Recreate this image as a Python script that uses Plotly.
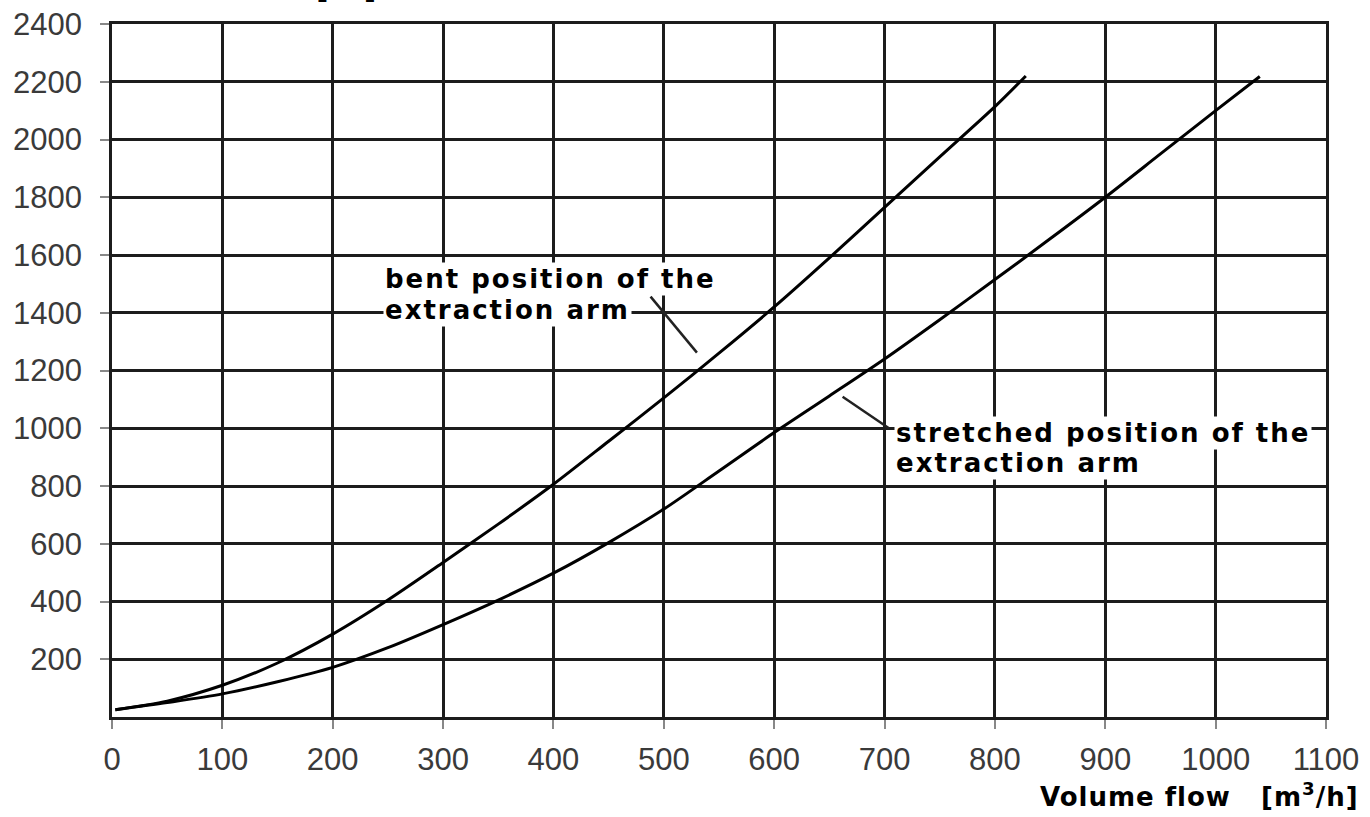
import plotly.graph_objects as go

# ---- data ----
bent_x = [3, 50, 100, 150, 200, 250, 300, 350, 400, 450, 500, 550, 600, 650, 700, 750, 800, 828]
bent_y = [25, 55, 110, 187, 287, 405, 535, 668, 806, 955, 1105, 1260, 1420, 1590, 1765, 1940, 2114, 2220]

stretched_x = [3, 50, 100, 150, 200, 250, 300, 350, 400, 450, 500, 550, 600, 650, 700, 750, 800, 850, 900, 950, 1000, 1040]
stretched_y = [25, 50, 80, 122, 172, 240, 320, 405, 498, 604, 720, 852, 985, 1112, 1240, 1376, 1515, 1656, 1800, 1950, 2100, 2218]

x_ticks = [0, 100, 200, 300, 400, 500, 600, 700, 800, 900, 1000, 1100]
y_ticks = [200, 400, 600, 800, 1000, 1200, 1400, 1600, 1800, 2000, 2200, 2400]

bent_label_lines = ["bent position of the", "extraction arm"]
stretched_label_lines = ["stretched position of the", "extraction arm"]
bent_callout = ([488, 530], [1456, 1262])
stretched_callout = ([662, 704], [1109, 1000])

x_title = "Volume flow   [m<sup>3</sup>/h]"
y_title = "Pressure loss   [Pa]"

GRID = "#1c1c1c"
LABEL_FONT = dict(family="DejaVu Sans", size=26, color="black")
SPACED = '<span style="letter-spacing:2px"><b>{}</b></span>'

W, H = 1370, 817
ML, MR, MT, MB = 112, 44, 24, 100
PW = W - ML - MR
PH = H - MT - MB

fig = go.Figure()

fig.add_trace(go.Scatter(x=bent_x, y=bent_y, mode="lines",
                         line=dict(color="black", width=3, shape="spline", smoothing=0.8),
                         name="bent", showlegend=False))
fig.add_trace(go.Scatter(x=stretched_x, y=stretched_y, mode="lines",
                         line=dict(color="black", width=3, shape="spline", smoothing=0.8),
                         name="stretched", showlegend=False))

# callout lines
for cx, cy in (bent_callout, stretched_callout):
    fig.add_trace(go.Scatter(x=cx, y=cy, mode="lines",
                             line=dict(color="#222", width=2.5),
                             showlegend=False, hoverinfo="skip"))

def add_label(lines, x, y_top, dy):
    for i, t in enumerate(lines):
        fig.add_annotation(x=x, y=y_top - i * dy, xref="x", yref="y",
                           text=SPACED.format(t), showarrow=False,
                           xanchor="left", yanchor="top", align="left",
                           font=LABEL_FONT, bgcolor="white", borderpad=1)

add_label(bent_label_lines, 246, 1577, 110)
add_label(stretched_label_lines, 709, 1042, 102)

# axis titles (the y title sits mostly above the top edge, as in the reference)
fig.add_annotation(x=(1361 - ML) / PW, y=-0.085, xref="paper", yref="paper",
                   text='<span style="letter-spacing:1px"><b>' + x_title + '</b></span>',
                   showarrow=False, xanchor="right", yanchor="top",
                   font=dict(family="DejaVu Sans", size=26, color="black"))
fig.add_annotation(x=(378 - ML) / PW, y=1 + (MT - 6) / PH, xref="paper", yref="paper",
                   text="<b>" + y_title + "</b>", showarrow=False,
                   xanchor="right", yanchor="bottom",
                   font=dict(family="DejaVu Sans", size=26, color="black"))

fig.update_xaxes(range=[0, 1100], tickvals=x_ticks, automargin=False,
                 showgrid=True, gridcolor=GRID, gridwidth=2.5,
                 showline=True, linecolor=GRID, linewidth=2.5, mirror=True,
                 ticks="outside", ticklen=9, tickwidth=1.5, tickcolor="#888",
                 tickfont=dict(family="Liberation Sans", size=31, color="#3a3a3a"),
                 ticklabelstandoff=4, ticklabeloverflow="allow",
                 zeroline=False, fixedrange=True)
fig.update_yaxes(range=[0, 2400], tickvals=y_ticks, automargin=False,
                 showgrid=True, gridcolor=GRID, gridwidth=2.5,
                 showline=True, linecolor=GRID, linewidth=2.5, mirror=True,
                 ticks="outside", ticklen=9, tickwidth=1.5, tickcolor="#888",
                 tickfont=dict(family="Liberation Sans", size=31, color="#3a3a3a"),
                 ticklabelstandoff=12, ticklabeloverflow="allow",
                 zeroline=False, fixedrange=True)

fig.update_layout(width=W, height=H,
                  margin=dict(l=ML, r=MR, t=MT, b=MB),
                  plot_bgcolor="white", paper_bgcolor="white",
                  showlegend=False)

# remove the default page margin so the figure fills the window exactly
fig.write_html("out.html", config={"displayModeBar": False},
               post_script="document.body.style.margin='0';document.body.style.overflow='hidden';")
